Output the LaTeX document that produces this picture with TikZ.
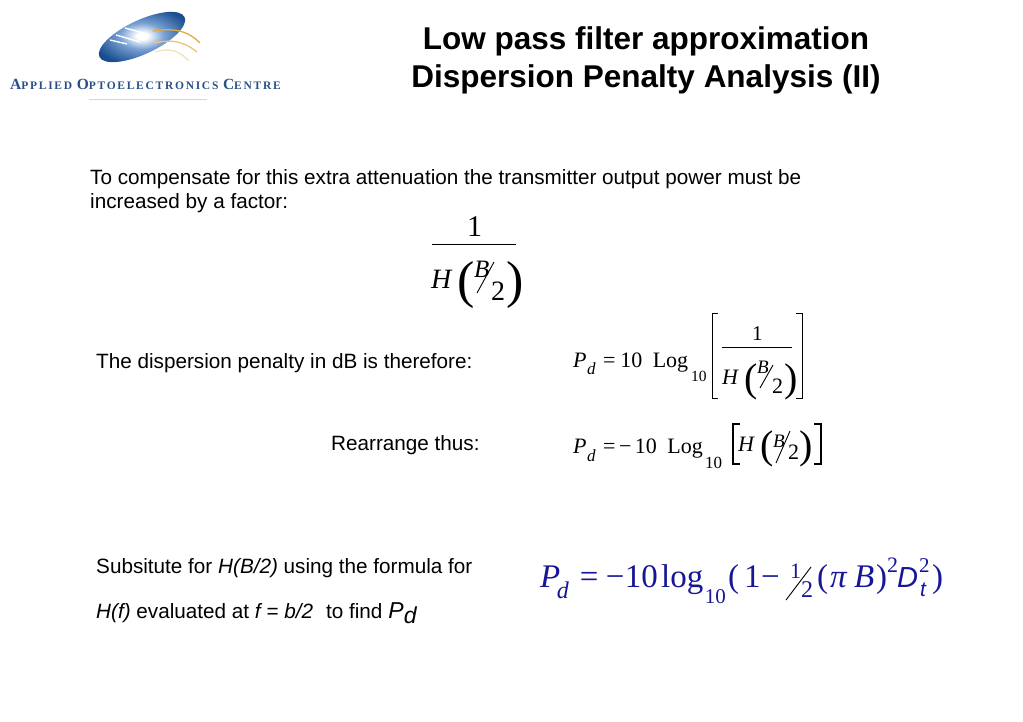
\documentclass[tikz,border=0pt]{standalone}
\usepackage{fontspec}
\setmainfont{Liberation Sans}
\newfontfamily\timesfam{Liberation Serif}
\newfontfamily\logofam[LetterSpace=15]{Liberation Serif}
\usetikzlibrary{positioning,calc,shapes.geometric}
\definecolor{penblue}{RGB}{22,22,150}
\definecolor{logoblue}{RGB}{25,78,145}
\definecolor{logomid}{RGB}{120,160,210}
\definecolor{logotext}{RGB}{40,80,135}
\definecolor{logogold}{RGB}{232,170,60}
\pgfdeclareradialshading{logoshade}{\pgfpoint{0bp}{0bp}}{color(0bp)=(white); color(3bp)=(white); color(12bp)=(logomid); color(27bp)=(logoblue); color(50bp)=(logoblue)}
\newcommand{\capl}[1]{{\fontsize{15.5}{15.5}\selectfont #1}}
\begin{document}
\begin{tikzpicture}[x=1pt,y=-1pt,
title node/.style={align=center,inner sep=0,anchor=base,font=\bfseries\fontsize{31.5}{38}\selectfont},
body node/.style={anchor=base west,inner sep=0,font=\fontsize{20.7}{24}\selectfont},
rom/.style={anchor=base west,inner sep=0,font=\timesfam\fontsize{#1}{#1}\selectfont},
ital/.style={anchor=base west,inner sep=0,font=\timesfam\itshape\fontsize{#1}{#1}\selectfont},
thin rule/.style={line width=0.9pt},
thin bracket/.style={line width=0.8pt},
bold bracket/.style={line width=2.2pt}]
\useasboundingbox (0,0) rectangle (1023,722);
% logo
  \node[ellipse,rotate=25,minimum width=94pt,minimum height=34pt,inner sep=0,shading=logoshade] (disc) at (142,37) {};
  \draw[white,line width=1.4pt] (125,28) -- (147,34) (116,35) -- (140,42) (110,40) -- (127,44);
  \draw[logogold,line width=1.3pt] (153,31) .. controls (178,27) and (190,33) .. (200,43);
  \draw[logogold!70,line width=1.3pt] (155,43) .. controls (175,38) and (187,44) .. (197,52);
  \draw[logogold!35,line width=1.3pt] (155,52) .. controls (172,47) and (180,52) .. (189,61);
  \node[anchor=base west,inner sep=0,text=logotext,font=\logofam\bfseries\fontsize{11.5}{12}\selectfont] (logotitle) at (10,90)
    {\capl{A}PPLIED \capl{O}PTOELECTRONICS \capl{C}ENTRE};
  \draw[logogold!50,line width=1pt] (89,100) -- (207,100);
% texts
  \node[title node] (title) at (646,88) {Low pass filter approximation\\[0pt]Dispersion Penalty Analysis (II)};
  \node[body node] (comp) at (90,185) {To compensate for this extra attenuation the transmitter output power must be};
  \node[body node] (incr) at (90,209) {increased by a factor:};
  \node[body node] (disp) at (96,368) {The dispersion penalty in dB is therefore:};
  \node[body node] (rearr) at (331,450) {Rearrange thus:};
  \node[body node] (subs) at (96,573) {Subsitute for \textit{H(B/2)} using the formula for};
  \node[body node] (eval) at (96,618) {\textit{H(f)} evaluated at \textit{f = b/2}\hspace{13pt}to find\hspace{6pt}\textit{\fontsize{23}{23}\selectfont P\raisebox{-5pt}{d}}};
% factor
  \node[rom=30] (oneA) at (467,237) {1};
  \draw[thin rule] (432,244) -- (516,244);
  \node[ital=28] (hA) at (431,288) {H};
  \node[rom=52] (lpA) at (457,297) {(};
  \node[ital=25] (bA) at (474,277) {B};
  \draw[thin rule] (477,293) -- (494,262);
  \node[rom=28] (twoA) at (491,301) {2};
  \node[rom=52] (rpA) at (506,297) {)};
% first dB equation
  \node[ital=22] (pB) at (573,367) {P};
  \node[ital=17,base right = 0pt of pB,yshift=-7pt] (dB) {d};
  \node[rom=22,base right = 16pt of pB] (eqB) {=};
  \node[rom=22,base right = 4.5pt of eqB] (tenB) {10};
  \node[rom=22,base right = 10pt of tenB] (logB) {Log};
  \node[rom=15.5,base right = 2.5pt of logB,yshift=-14pt] (subB) {10};
  \node[rom=21] (oneB) at (752,340) {1};
  \draw[thin rule] (722,347) -- (792,347);
  \node[ital=22] (hB) at (722,384) {H};
  \node[rom=40] (lpB) at (744,391) {(};
  \node[ital=19] (bB) at (757,373) {B};
  \draw[thin rule] (760,388) -- (773,365);
  \node[rom=22] (twoB) at (772,393) {2};
  \node[rom=40] (rpB) at (784,391) {)};
  \draw[thin bracket] (718,313) -- (712,313) -- (712,398) -- (718,398);
  \draw[thin bracket] (796,313) -- (802,313) -- (802,398) -- (796,398);
% second dB equation
  \node[ital=22] (pC) at (573,453) {P};
  \node[ital=17,base right = 0pt of pC,yshift=-8pt] (dC) {d};
  \node[rom=22,base right = 16pt of pC] (eqC) {=\,−};
  \node[rom=22,base right = 3pt of eqC] (tenC) {10};
  \node[rom=22,base right = 10pt of tenC] (logC) {Log};
  \node[rom=17,base right = 2pt of logC,yshift=-15pt] (subC) {10};
  \node[ital=22] (hC) at (738,451) {H};
  \node[rom=40] (lpC) at (760,458) {(};
  \node[ital=19] (bC) at (773,447) {B};
  \draw[thin rule] (776,463) -- (790,431);
  \node[rom=22] (twoC) at (788,459) {2};
  \node[rom=40] (rpC) at (799,458) {)};
  \draw[bold bracket] (740,424) -- (733,424) -- (733,464) -- (740,464);
  \draw[bold bracket] (814,424) -- (821,424) -- (821,464) -- (814,464);
% blue equation
  \begin{scope}[every node/.append style={text=penblue}]
  \node[ital=33] (pD) at (540,587) {P};
  \node[ital=24,base right = -4pt of pD,yshift=-11pt] (dD) {d};
  \node[rom=33,base right = 19pt of pD] (eqD) {=};
  \node[rom=33,base right = 7pt of eqD] (minD) {−};
  \node[rom=33,base right = 0pt of minD] (tenD) {10};
  \node[rom=33,base right = 3pt of tenD] (logD) {log};
  \node[rom=21,base right = 1pt of logD,yshift=-16pt] (subD) {10};
  \node[rom=33] (lpD) at (728,587) {(};
  \node[rom=33] (oneD) at (744,587) {1};
  \node[rom=33] (mnD) at (761,587) {−};
  \node[rom=22] (halfD) at (790,578) {1};
  \node[rom=24] (twoD) at (801,597) {2};
  \node[rom=33] (lqD) at (817,587) {(};
  \node[ital=33] (piD) at (830,587) {π};
  \node[ital=33] (bD) at (854,587) {B};
  \node[rom=33] (rqD) at (876,587) {)};
  \node[rom=22] (supD) at (887,572) {2};
  \node[anchor=base west,inner sep=0,font=\itshape\fontsize{29}{29}\selectfont] (dtD) at (897,587) {D};
  \node[rom=21] (suptD) at (919,572) {2};
  \node[anchor=base west,inner sep=0,font=\itshape\fontsize{21}{21}\selectfont] (tD) at (920,596) {t};
  \node[rom=33] (rrD) at (932,587) {)};
  \end{scope}
  \draw[black,thin rule] (786,600) -- (811,567);
\end{tikzpicture}
\end{document}
